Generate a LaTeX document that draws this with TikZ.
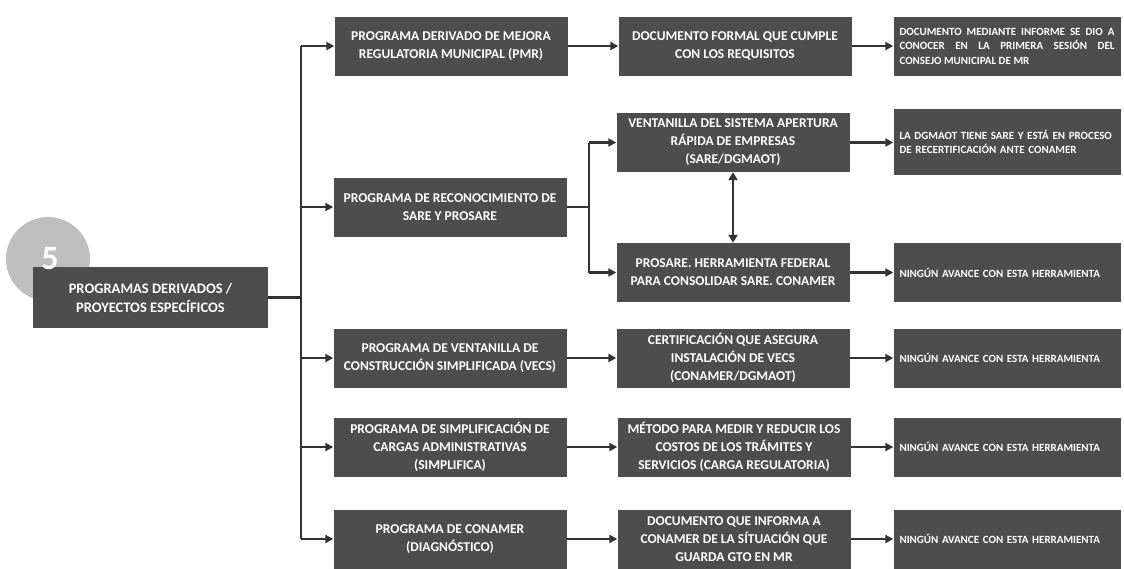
\documentclass[tikz,border=0pt]{standalone}
\usepackage{fontspec}
\setmainfont{Carlito}
\usetikzlibrary{arrows.meta}
\definecolor{boxgray}{HTML}{4D4D4D}
\definecolor{linegray}{HTML}{333333}
\definecolor{circgray}{HTML}{BFBFBF}
\tikzset{
  box/.style={fill=boxgray, text=white, font=\bfseries\fontsize{13.5}{18}\selectfont,
    align=center, inner sep=0pt, minimum width=233pt, minimum height=59pt},
  nbox/.style={box, font=\bfseries\fontsize{11}{14.5}\selectfont,
    minimum width=227pt, text width=215pt, align=left},
  conn/.style={draw=linegray, line width=2.2pt, -{Triangle[length=8pt,width=8pt]}},
  dconn/.style={draw=linegray, line width=2.6pt, {Triangle[length=8pt,width=9pt]}-{Triangle[length=8pt,width=9pt]}},
  plainline/.style={draw=linegray, line width=2.2pt}
}
\begin{document}
\begin{tikzpicture}[x=1pt,y=-1pt]
\useasboundingbox (0,0) rectangle (1124,568);
% circle and number
\node[circle, fill=circgray, minimum size=84pt, inner sep=0pt] (circ) at (48,259) {};
\node[box, minimum width=235pt, minimum height=61pt, font=\bfseries\fontsize{14.5}{19}\selectfont] (main) at (150.5,297.5)
  {PROGRAMAS DERIVADOS /\\PROYECTOS ESPECÍFICOS};
\node[text=white, font=\bfseries\fontsize{34}{34}\selectfont, inner sep=0pt] (num) at (50,259) {5};

% column 1
\node[box] (p1) at (451,46) {PROGRAMA DERIVADO DE MEJORA\\REGULATORIA MUNICIPAL (PMR)};
\node[box] (p2) at (450,207) {PROGRAMA DE RECONOCIMIENTO DE\\SARE Y PROSARE};
\node[box] (p3) at (450,358) {PROGRAMA DE VENTANILLA DE\\CONSTRUCCIÓN SIMPLIFICADA (VECS)};
\node[box] (p4) at (450,447) {PROGRAMA DE SIMPLIFICACIÓN DE\\CARGAS ADMINISTRATIVAS\\(SIMPLIFICA)};
\node[box] (p5) at (450,539) {PROGRAMA DE CONAMER\\(DIAGNÓSTICO)};

% column 2
\node[box] (d1) at (735,46) {DOCUMENTO FORMAL QUE CUMPLE\\CON LOS REQUISITOS};
\node[box] (v2) at (733,142.5) {VENTANILLA DEL SISTEMA APERTURA\\RÁPIDA DE EMPRESAS\\(SARE/DGMAOT)};
\node[box] (s2) at (733,272.5) {PROSARE. HERRAMIENTA FEDERAL\\PARA CONSOLIDAR SARE. CONAMER};
\node[box] (d3) at (733,358) {CERTIFICACIÓN QUE ASEGURA\\INSTALACIÓN DE VECS\\(CONAMER/DGMAOT)};
\node[box] (d4) at (734,447) {MÉTODO PARA MEDIR Y REDUCIR LOS\\COSTOS DE LOS TRÁMITES Y\\SERVICIOS (CARGA REGULATORIA)};
\node[box] (d5) at (734,539) {DOCUMENTO QUE INFORMA A\\CONAMER DE LA SÍTUACIÓN QUE\\GUARDA GTO EN MR};

% column 3
\node[nbox, align=justify] (e1) at (1007,46) {DOCUMENTO MEDIANTE INFORME SE DIO A\linebreak CONOCER EN LA PRIMERA SESIÓN DEL\linebreak CONSEJO MUNICIPAL DE MR};
\node[nbox, minimum height=66pt] (f2) at (1007,142) {LA DGMAOT TIENE SARE Y ESTÁ EN PROCESO\\DE RECERTIFICACIÓN ANTE CONAMER};
\node[nbox] (g2) at (1007,272.5) {NINGÚN AVANCE CON ESTA HERRAMIENTA};
\node[nbox] (e3) at (1007,358) {NINGÚN AVANCE CON ESTA HERRAMIENTA};
\node[nbox] (e4) at (1007,447) {NINGÚN AVANCE CON ESTA HERRAMIENTA};
\node[nbox] (e5) at (1007,539) {NINGÚN AVANCE CON ESTA HERRAMIENTA};

% trunk
\coordinate (tx) at (301,0);
\draw[plainline] (main.east) -- (main.east -| tx);
\draw[plainline] (tx |- p1.west) -- (tx |- p5.west);
\foreach \n in {p1,p2,p3,p4,p5}{
  \draw[conn] (tx |- \n.west) -- (\n.west);
}

% branch of row 2
\coordinate (bx) at (589,0);
\draw[plainline] (p2.east) -- (p2.east -| bx);
\draw[plainline] (bx |- v2.west) -- (bx |- s2.west);
\draw[conn] (bx |- v2.west) -- (v2.west);
\draw[conn] (bx |- s2.west) -- (s2.west);
\draw[dconn] (v2.south) -- (s2.north);

% column 1 -> column 2
\draw[conn] (p1.east) -- (p1.east -| d1.west);
\draw[conn] (p3.east) -- (d3.west);
\draw[conn] (p4.east) -- (d4.west);
\draw[conn] (p5.east) -- (d5.west);

% column 2 -> column 3
\draw[conn] (d1.east) -- (e1.west);
\draw[conn] (v2.east) -- (v2.east -| f2.west);
\draw[conn] (s2.east) -- (g2.west);
\draw[conn] (d3.east) -- (e3.west);
\draw[conn] (d4.east) -- (e4.west);
\draw[conn] (d5.east) -- (e5.west);
\end{tikzpicture}
\end{document}
